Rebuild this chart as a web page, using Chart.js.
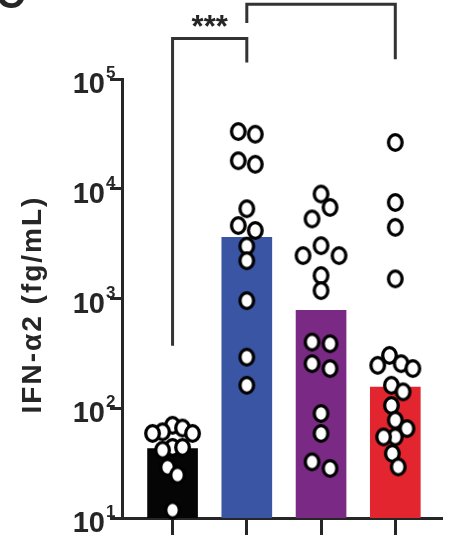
<!DOCTYPE html>
<html>
<head>
<meta charset="utf-8">
<script src="https://cdn.jsdelivr.net/npm/chart.js@4.4.1/dist/chart.umd.min.js"></script>
<style>
  html, body { margin: 0; padding: 0; background: #fff; }
  #wrap { width: 451px; height: 535px; position: relative; }
</style>
</head>
<body>
<div id="wrap"><canvas id="chart"></canvas></div>
<script>
/* ── Data ───────────────────────────────────────────────────── */
const groups    = [1, 2, 3, 4];
const means     = [43, 3600, 780, 156];
const ptsBlack  = [70, 66, 61, 59, 59, 44, 44, 41.5, 29, 24.6, 11.8];
const ptsBlue   = [33200, 31400, 18000, 16700, 6580, 4620, 4170, 3000, 2210, 956, 292, 162];
const ptsPurple = [8950, 6760, 5310, 3030, 2460, 2460, 1620, 1180, 401, 387, 255, 230, 89.6, 58.9, 32.5, 28.3];
const ptsRed    = [26400, 7500, 4450, 1510, 303, 255, 246, 230, 162, 141, 106, 77.8, 65.3, 54.8, 54.8, 38.7, 29.2];
const yTicks    = [10, 100, 1000, 10000, 100000];
const yLabel    = 'IFN-α2 (fg/mL)';
const sigLabel  = '***';

/* ── Styles ──────────────────────────────────────────────────── */
const barColors  = ['#050505', '#3a55a4', '#7a2a85', '#e3252f'];
const dotSpacing = [10, 17, 18, 11.7];   // horizontal packing per group, px
const INK = '#262626';

// brackets: [from group, to group, top, left foot, right foot] in log10 units
const brackets = [
  [1, 2, 5.37, 2.57, 5.15, sigLabel],
  [2, 4, 5.68, 5.51, 5.18, ''],
];

/* open circle, a little taller than wide like the original */
function dotImage() {
  const c = document.createElement('canvas');
  c.width = 19; c.height = 21;
  const g = c.getContext('2d');
  g.beginPath();
  g.ellipse(9.5, 10.5, 6.8, 7.8, 0, 0, Math.PI * 2);
  g.fillStyle = '#fff'; g.fill();
  g.lineWidth = 3.3; g.strokeStyle = '#000'; g.stroke();
  return c;
}
const dot = dotImage();

/* ── Plugin: tick labels, axis title, brackets ──────────────── */
const decor = {
  id: 'decor',
  afterDraw(chart) {
    const { ctx, chartArea } = chart;
    const xs = chart.scales.x, ys = chart.scales.y;
    ctx.save();
    ctx.fillStyle = INK;

    // 10^n tick labels
    yTicks.forEach(v => {
      const py = ys.getPixelForValue(v);
      ctx.font = 'bold 29px "Liberation Sans", Arial, sans-serif';
      ctx.textAlign = 'right';
      ctx.textBaseline = 'alphabetic';
      ctx.fillText('10', 105, py + 14);
      ctx.font = 'bold 17px "Liberation Sans", Arial, sans-serif';
      ctx.textAlign = 'left';
      ctx.fillText(String(Math.round(Math.log10(v))), 106, py - 1);
    });

    // rotated axis title
    ctx.save();
    ctx.translate(41, (chartArea.top + chartArea.bottom) / 2 + 6);
    ctx.rotate(-Math.PI / 2);
    ctx.font = 'bold 28px "Liberation Sans", Arial, sans-serif';
    ctx.letterSpacing = '2px';
    ctx.textAlign = 'center';
    ctx.textBaseline = 'alphabetic';
    ctx.fillText(yLabel, 0, 0);
    ctx.restore();

    // panel letter, mostly cropped
    ctx.font = 'bold 40px "Liberation Sans", Arial, sans-serif';
    ctx.textAlign = 'left';
    ctx.fillText('C', -4, 8);

    // significance brackets
    ctx.strokeStyle = '#333';
    ctx.lineWidth = 3;
    ctx.lineJoin = 'miter';
    brackets.forEach(([a, b, top, l, r, txt]) => {
      const x1 = xs.getPixelForValue(a), x2 = xs.getPixelForValue(b);
      const yt = ys.getPixelForValue(Math.pow(10, top));
      ctx.beginPath();
      ctx.moveTo(x1, ys.getPixelForValue(Math.pow(10, l)));
      ctx.lineTo(x1, yt);
      ctx.lineTo(x2, yt);
      ctx.lineTo(x2, ys.getPixelForValue(Math.pow(10, r)));
      ctx.stroke();
      if (txt) {
        ctx.font = 'bold 31px "Liberation Sans", Arial, sans-serif';
        ctx.textAlign = 'center';
        ctx.fillText(txt, (x1 + x2) / 2, yt - 1);
      }
    });
    ctx.restore();
  }
};

/* ── Chart ───────────────────────────────────────────────────── */
const groupPts = [ptsBlack, ptsBlue, ptsPurple, ptsRed];

const chart = new Chart(document.getElementById('chart'), {
  type: 'bar',
  data: {
    datasets: [
      {
        data: groups.map((g, i) => ({ x: g, y: means[i] })),
        backgroundColor: barColors,
        barThickness: 50,
        order: 2,
      },
      ...groupPts.map((pts, i) => ({
        type: 'scatter',
        data: pts.map(v => ({ x: groups[i], y: v })),
        pointStyle: dot,
        pointRadius: 8,
        clip: false,
        order: 1,
      })),
    ],
  },
  options: {
    responsive: true,
    maintainAspectRatio: false,
    animation: false,
    layout: { padding: { top: 79, left: 0, right: 0, bottom: 0 } },
    plugins: { legend: { display: false }, tooltip: { enabled: false } },
    scales: {
      x: {
        type: 'linear',
        offset: false,
        min: 0.319,
        max: 4.629,
        afterBuildTicks: s => { s.ticks = groups.map(v => ({ value: v })); },
        afterFit: s => { s.height = 17; },
        ticks: { display: false },
        grid: { offset: false, drawOnChartArea: false, tickLength: 17, tickWidth: 3, tickColor: INK },
        border: { color: INK, width: 3 },
      },
      y: {
        type: 'logarithmic',
        min: 10,
        max: 100000,
        afterBuildTicks: s => { s.ticks = yTicks.map(v => ({ value: v })); },
        afterFit: s => { s.width = 122; },
        ticks: { display: false },
        grid: { drawOnChartArea: false, tickLength: 12, tickWidth: 3, tickColor: INK },
        border: { color: INK, width: 3 },
      },
    },
  },
  plugins: [decor],
});

/* Spread the dots sideways so they don't sit on top of each other */
function swarmOffsets(pys, sep) {
  const sepY = 14;
  const order = pys.map((y, i) => i).sort((a, b) => pys[a] - pys[b]);
  const placed = [];
  const out = new Array(pys.length).fill(0);
  order.forEach(i => {
    const py = pys[i];
    const near = placed.filter(p => Math.abs(p.y - py) < sepY);
    const load = near.reduce((s, p) => s + p.x, 0);
    let best = 0;
    for (let k = 0; k < 40; k++) {
      let cands = k === 0 ? [0] : [k * sep / 2, -k * sep / 2];
      if (load > 0) cands.reverse();
      const ok = cands.find(dx => near.every(p => {
        const a = (p.x - dx) / sep, b = (p.y - py) / sepY;
        return a * a + b * b >= 0.999;
      }));
      if (ok !== undefined) { best = ok; break; }
    }
    placed.push({ x: best, y: py, i });
  });
  // recentre each chain of touching dots on the column
  placed.sort((a, b) => a.y - b.y);
  let start = 0;
  for (let j = 1; j <= placed.length; j++) {
    if (j === placed.length || placed[j].y - placed[j - 1].y >= sepY) {
      const chunk = placed.slice(start, j);
      const m = chunk.reduce((s, p) => s + p.x, 0) / chunk.length;
      chunk.forEach(p => { out[p.i] = p.x - m; });
      start = j;
    }
  }
  return out;
}

const xs = chart.scales.x, ys = chart.scales.y;
const unit = xs.getPixelForValue(2) - xs.getPixelForValue(1);
groupPts.forEach((pts, i) => {
  const dx = swarmOffsets(pts.map(v => ys.getPixelForValue(v)), dotSpacing[i]);
  chart.data.datasets[i + 1].data = pts.map((v, j) => ({ x: groups[i] + dx[j] / unit, y: v }));
});
chart.update('none');
</script>
</body>
</html>
